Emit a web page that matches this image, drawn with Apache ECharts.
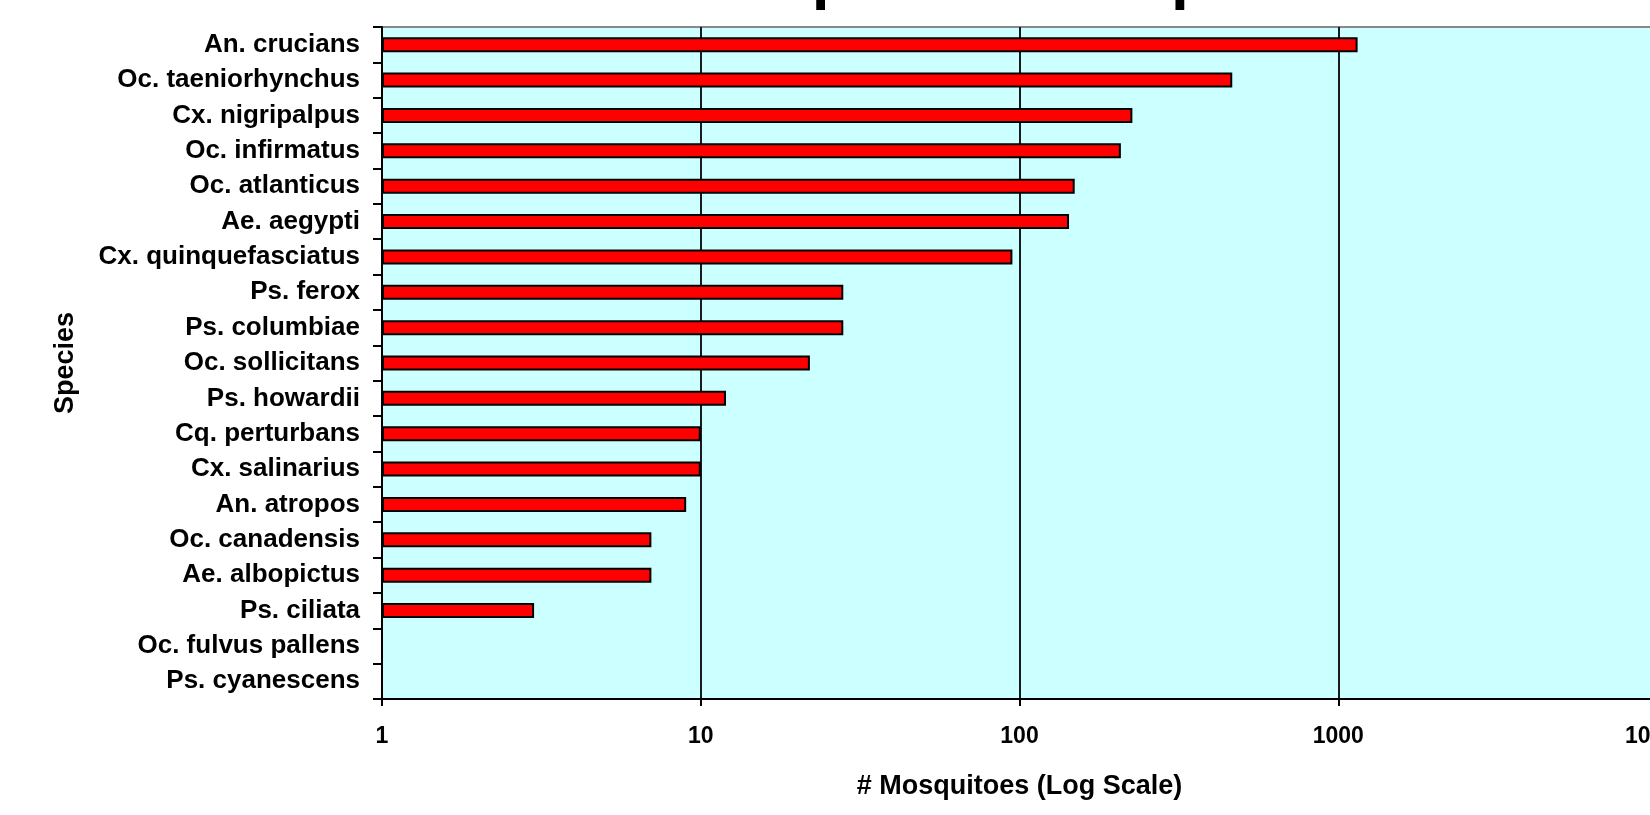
<!DOCTYPE html>
<html>
<head>
<meta charset="utf-8">
<script src="https://cdn.jsdelivr.net/npm/echarts@6/dist/echarts.min.js"></script>
<style>
html,body{margin:0;padding:0;background:#fff;}
#chart{width:1650px;height:815px;}
</style>
</head>
<body>
<div id="chart"></div>
<script>
const species = [
  "An. crucians", "Oc. taeniorhynchus", "Cx. nigripalpus", "Oc. infirmatus",
  "Oc. atlanticus", "Ae. aegypti", "Cx. quinquefasciatus", "Ps. ferox",
  "Ps. columbiae", "Oc. sollicitans", "Ps. howardii", "Cq. perturbans",
  "Cx. salinarius", "An. atropos", "Oc. canadensis", "Ae. albopictus",
  "Ps. ciliata", "Oc. fulvus pallens", "Ps. cyanescens"
];
const counts = [1150, 465, 226, 208, 149, 143, 95, 28, 28, 22, 12, 10, 10, 9, 7, 7, 3, 1, 1];
const titleText = "Species Composition";
const xAxisTitle = "# Mosquitoes (Log Scale)";
const yAxisTitle = "Species";

const FONT = "Liberation Sans, Arial, sans-serif";
const chart = echarts.init(document.getElementById('chart'));
chart.setOption({
  animation: false,
  backgroundColor: '#ffffff',
  graphic: [{
    type: 'text', left: 769, top: -53,
    style: { text: titleText, font: 'bold 64px ' + FONT, fill: '#000' }
  }],
  grid: {
    left: 382, top: 27, bottom: 116, right: -7,
    containLabel: false, outerBoundsMode: 'none',
    show: true, backgroundColor: '#CCFFFF', borderColor: '#888888', borderWidth: 2
  },
  xAxis: {
    type: 'log', logBase: 10, min: 1, max: 10000,
    name: xAxisTitle, nameLocation: 'middle', nameGap: 74,
    nameTextStyle: { fontFamily: FONT, fontWeight: 'bold', fontSize: 27, color: '#000' },
    axisLine: { show: true, lineStyle: { color: '#000', width: 2 } },
    axisTick: { show: true, length: 7, lineStyle: { color: '#000', width: 2 } },
    axisLabel: { fontFamily: FONT, fontWeight: 'bold', fontSize: 23, color: '#000', margin: 26,
      formatter: v => String(Math.round(v)) },
    splitLine: { show: true, lineStyle: { color: '#1a1a1a', width: 2 } },
    minorTick: { show: false }
  },
  yAxis: {
    type: 'category', data: species, inverse: true,
    name: yAxisTitle, nameLocation: 'middle', nameGap: 303, nameRotate: 90,
    nameTextStyle: { fontFamily: FONT, fontWeight: 'bold', fontSize: 27, color: '#000' },
    axisLine: { show: true, lineStyle: { color: '#000', width: 2 } },
    axisTick: { show: true, length: 9, lineStyle: { color: '#000', width: 2 } },
    axisLabel: { fontFamily: FONT, fontWeight: 'bold', fontSize: 26, color: '#000', margin: 22 },
    splitLine: { show: false }
  },
  series: [{
    type: 'bar', data: counts, barWidth: 15,
    itemStyle: { color: '#FF0000', borderColor: '#000', borderWidth: 2 }
  }]
});
</script>
</body>
</html>
